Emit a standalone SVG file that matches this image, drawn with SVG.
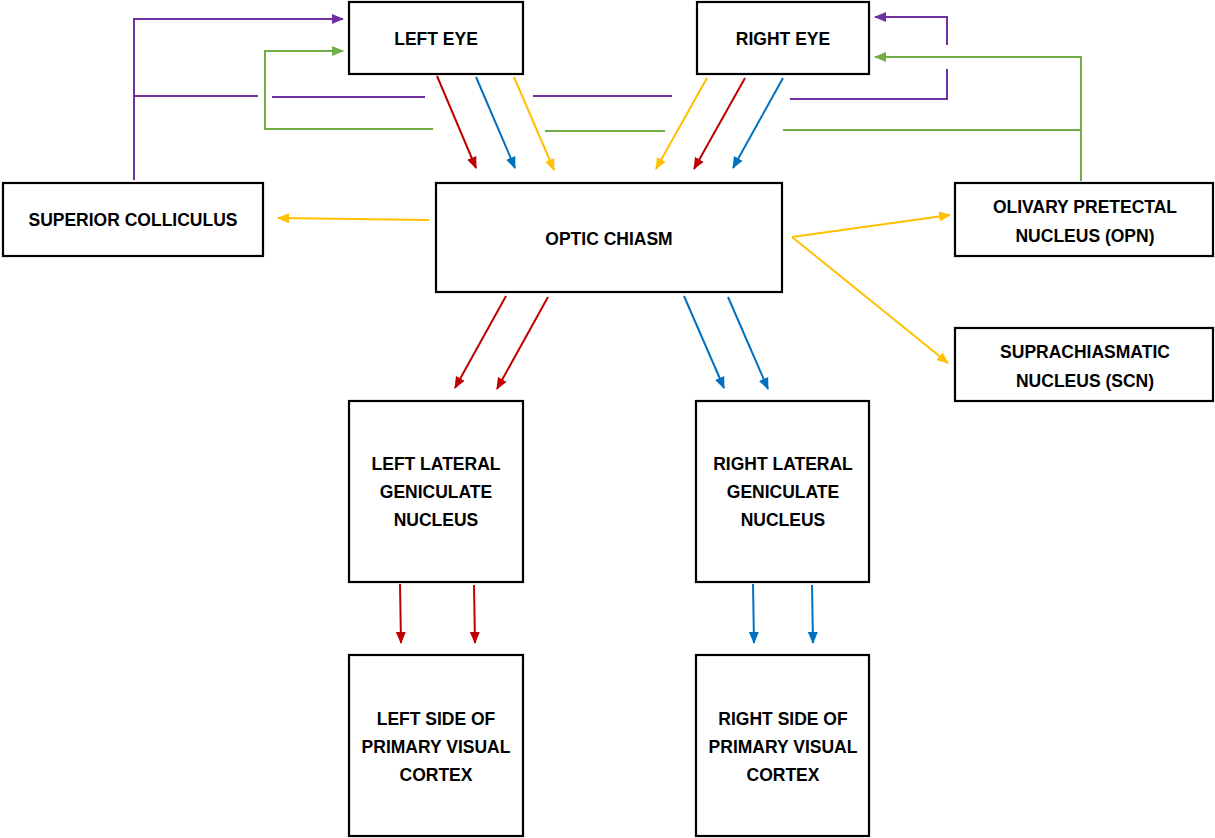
<svg xmlns="http://www.w3.org/2000/svg" width="1215" height="838" viewBox="0 0 1215 838">
<style>
.box{fill:#fff;stroke:#000;stroke-width:2.2}
.t{font-family:"Liberation Sans",Arial,sans-serif;font-weight:bold;font-size:17.5px;text-anchor:middle;fill:#000}
.c{fill:none;stroke-width:2}
.r{stroke:#C00000}.b{stroke:#0070C0}.y{stroke:#FFC000}.p{stroke:#7030A0}.g{stroke:#70AD47}
</style>
<defs>
<marker id="ar" markerUnits="userSpaceOnUse" markerWidth="12" markerHeight="12" viewBox="0 0 12 12" refX="11" refY="6" orient="auto"><path d="M0,1 L12,6 L0,11 Z" fill="#C00000"/></marker>
<marker id="ab" markerUnits="userSpaceOnUse" markerWidth="12" markerHeight="12" viewBox="0 0 12 12" refX="11" refY="6" orient="auto"><path d="M0,1 L12,6 L0,11 Z" fill="#0070C0"/></marker>
<marker id="ay" markerUnits="userSpaceOnUse" markerWidth="12" markerHeight="12" viewBox="0 0 12 12" refX="11" refY="6" orient="auto"><path d="M0,1 L12,6 L0,11 Z" fill="#FFC000"/></marker>
<marker id="ap" markerUnits="userSpaceOnUse" markerWidth="12" markerHeight="12" viewBox="0 0 12 12" refX="11" refY="6" orient="auto"><path d="M0,1 L12,6 L0,11 Z" fill="#7030A0"/></marker>
<marker id="ag" markerUnits="userSpaceOnUse" markerWidth="12" markerHeight="12" viewBox="0 0 12 12" refX="11" refY="6" orient="auto"><path d="M0,1 L12,6 L0,11 Z" fill="#70AD47"/></marker>
</defs>
<g id="connectors">
<path class="c p" d="M134,180 V19 H343" marker-end="url(#ap)"/>
<path class="c p" d="M134,96 H258"/>
<path class="c p" d="M272,97 H425"/>
<path class="c p" d="M533,96 H672"/>
<path class="c p" d="M790,99 H947 V69"/>
<path class="c p" d="M947,45 V17 H875" marker-end="url(#ap)"/>
<path class="c g" d="M433,129 H265 V51 H343" marker-end="url(#ag)"/>
<path class="c g" d="M545,131 H665"/>
<path class="c g" d="M783,130 H1081"/>
<path class="c g" d="M1081,181 V57 H875" marker-end="url(#ag)"/>
<path class="c r" d="M437,76 L476,168" marker-end="url(#ar)"/>
<path class="c b" d="M476,77 L515,168" marker-end="url(#ab)"/>
<path class="c y" d="M514,77 L554,170" marker-end="url(#ay)"/>
<path class="c y" d="M707,78 L656,169" marker-end="url(#ay)"/>
<path class="c r" d="M745,78 L694,169" marker-end="url(#ar)"/>
<path class="c b" d="M783,78 L733,168" marker-end="url(#ab)"/>
<path class="c y" d="M429,220 L278,218" marker-end="url(#ay)"/>
<path class="c y" d="M792,237 L950,215" marker-end="url(#ay)"/>
<path class="c y" d="M792,237 L948,363" marker-end="url(#ay)"/>
<path class="c r" d="M506,296 L455,388" marker-end="url(#ar)"/>
<path class="c r" d="M548,297 L497,389" marker-end="url(#ar)"/>
<path class="c b" d="M684,296 L724,388" marker-end="url(#ab)"/>
<path class="c b" d="M728,297 L768,389" marker-end="url(#ab)"/>
<path class="c r" d="M400,584 L401,643" marker-end="url(#ar)"/>
<path class="c r" d="M474,585 L475,643" marker-end="url(#ar)"/>
<path class="c b" d="M753,584 L754,643" marker-end="url(#ab)"/>
<path class="c b" d="M812,585 L813,643" marker-end="url(#ab)"/>
</g>
<g id="left-eye"><rect class="box" x="349" y="2" width="174" height="72"/><text class="t" x="436" y="45">LEFT EYE</text></g>
<g id="right-eye"><rect class="box" x="697" y="2" width="172" height="72"/><text class="t" x="783" y="45">RIGHT EYE</text></g>
<g id="superior-colliculus"><rect class="box" x="3" y="183" width="260" height="73"/><text class="t" x="133" y="226">SUPERIOR COLLICULUS</text></g>
<g id="optic-chiasm"><rect class="box" x="436" y="183" width="346" height="109"/><text class="t" x="609" y="245">OPTIC CHIASM</text></g>
<g id="opn"><rect class="box" x="955" y="183" width="258" height="73"/><text class="t" x="1085" y="213">OLIVARY PRETECTAL</text><text class="t" x="1085" y="242">NUCLEUS (OPN)</text></g>
<g id="scn"><rect class="box" x="955" y="328" width="258" height="73"/><text class="t" x="1085" y="358">SUPRACHIASMATIC</text><text class="t" x="1085" y="387">NUCLEUS (SCN)</text></g>
<g id="left-lgn"><rect class="box" x="349" y="401" width="174" height="181"/><text class="t" x="436" y="470">LEFT LATERAL</text><text class="t" x="436" y="498">GENICULATE</text><text class="t" x="436" y="526">NUCLEUS</text></g>
<g id="right-lgn"><rect class="box" x="696" y="401" width="173" height="181"/><text class="t" x="783" y="470">RIGHT LATERAL</text><text class="t" x="783" y="498">GENICULATE</text><text class="t" x="783" y="526">NUCLEUS</text></g>
<g id="left-cortex"><rect class="box" x="349" y="655" width="174" height="181"/><text class="t" x="436" y="725">LEFT SIDE OF</text><text class="t" x="436" y="753">PRIMARY VISUAL</text><text class="t" x="436" y="781">CORTEX</text></g>
<g id="right-cortex"><rect class="box" x="696" y="655" width="173" height="181"/><text class="t" x="783" y="725">RIGHT SIDE OF</text><text class="t" x="783" y="753">PRIMARY VISUAL</text><text class="t" x="783" y="781">CORTEX</text></g>
</svg>
